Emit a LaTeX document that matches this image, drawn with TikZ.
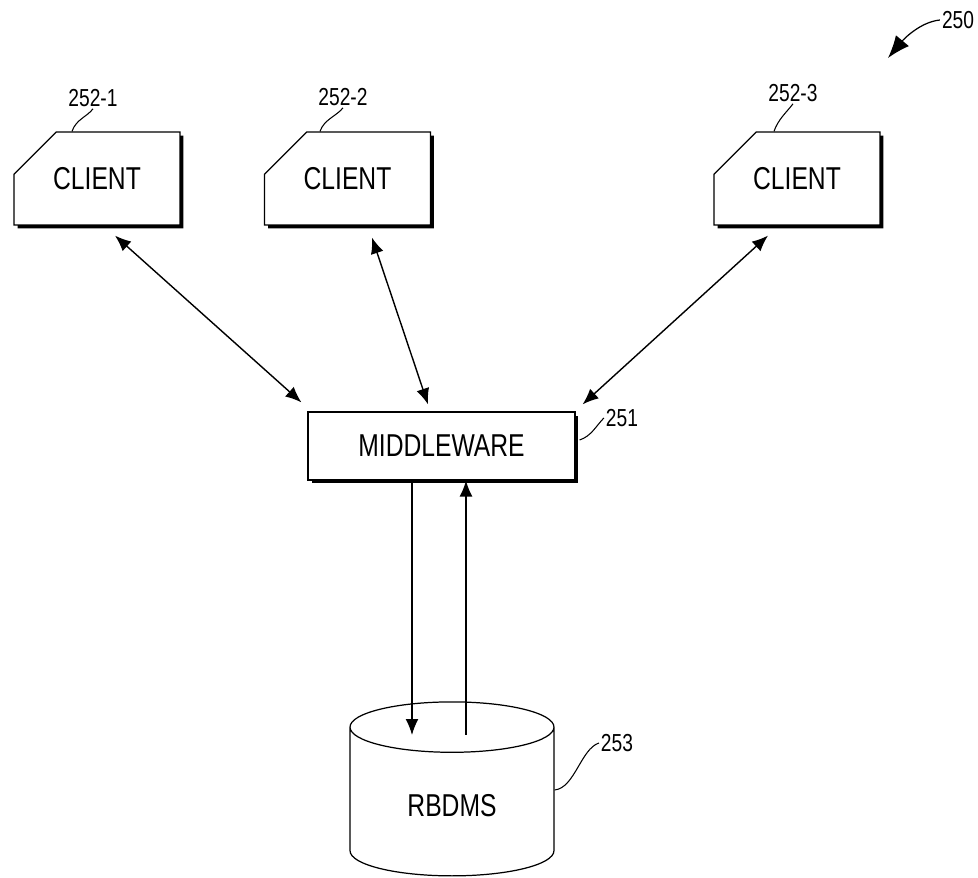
\documentclass[tikz,border=0pt]{standalone}
\usepackage{fontspec}
\newfontfamily\patfont[FakeStretch=0.78]{Liberation Sans}
\usetikzlibrary{shapes.misc,shapes.geometric,shadows,arrows.meta}

\tikzset{
	box/.style={draw, line width=0.7pt, fill=white, inner sep=0pt,
		font=\patfont\fontsize{18}{20}\selectfont,
		drop shadow={shadow xshift=0.07cm, shadow yshift=-0.07cm, fill=black, opacity=1}},
	client/.style={box, chamfered rectangle, chamfered rectangle corners=north west,
		chamfered rectangle xsep=0.58cm, chamfered rectangle ysep=0.62cm,
		minimum width=3.32cm, minimum height=1.86cm},
	refnum/.style={font=\patfont\fontsize{14}{16}\selectfont, inner sep=1pt},
	leader/.style={line width=0.6pt},
	link/.style={line width=0.8pt, {Latex[length=3.2mm,width=2.6mm]}-{Latex[length=3.2mm,width=2.6mm]}},
	flow/.style={line width=0.8pt, -{Latex[length=3.2mm,width=2.6mm]}}
}

\begin{document}
\begin{tikzpicture}[x=0.02cm, y=-0.02cm]
\useasboundingbox (0,0) rectangle (978,878);

\node[client] (c1) at (97,178.5) {CLIENT};
\node[client] (c2) at (347.5,178.5) {CLIENT};
\node[client] (c3) at (797,178.5) {CLIENT};
\node[box, minimum width=5.34cm, minimum height=1.36cm] (mw) at (441.5,446) {MIDDLEWARE};
\node[draw, line width=0.7pt, cylinder, shape border rotate=90, aspect=0.5,
	minimum width=4.08cm, minimum height=3.48cm,
	font=\patfont\fontsize{18}{20}\selectfont] (db) at (452,806) {RBDMS};

% client <-> middleware
\draw[link] ([shift={(0.36cm,-0.2cm)}]c1.south) -- ([shift={(-0.12cm,0.18cm)}]mw.north west);
\draw[link] ([shift={(0.49cm,-0.24cm)}]c2.south) -- ([shift={(-0.27cm,0.14cm)}]mw.north);
\draw[link] ([shift={(-0.58cm,-0.2cm)}]c3.south) -- ([shift={(0.14cm,0.14cm)}]mw.north east);

% middleware <-> database
\coordinate (dn) at (412,735);
\coordinate (up) at (466,735);
\draw[flow] (mw.south -| dn) -- (dn);
\draw[flow] (up) -- (mw.south -| up);

% reference numerals
\node[refnum] (r1) at (93,98) {252-1};
\node[refnum] (r2) at (343,97) {252-2};
\node[refnum] (r3) at (793,93) {252-3};
\node[refnum] (r251) at (622,418) {251};
\node[refnum] (r253) at (617,743) {253};
\node[refnum] (r250) at (958,20) {250};

\draw[leader] ([xshift=-0.5cm]c1.north) .. controls +(4,-12) and +(-6,8) .. (r1.south);
\draw[leader] ([xshift=-0.55cm]c2.north) .. controls +(4,-12) and +(-6,8) .. (r2.south);
\draw[leader] ([xshift=-0.46cm]c3.north) .. controls +(4,-12) and +(-6,8) .. (r3.south);
\draw[leader] ([shift={(0.08cm,0.12cm)}]mw.east) .. controls +(12,-4) and +(-8,8) .. (r251.west);
\draw[leader] ([yshift=0.32cm]db.east) .. controls +(20,-2) and +(-18,6) .. (r253.west);
\draw[line width=0.7pt, -{Latex[length=4.5mm,width=3.4mm]}] (r250.west) .. controls +(-20,2) and +(15,-18) .. (888,58);
\end{tikzpicture}
\end{document}
